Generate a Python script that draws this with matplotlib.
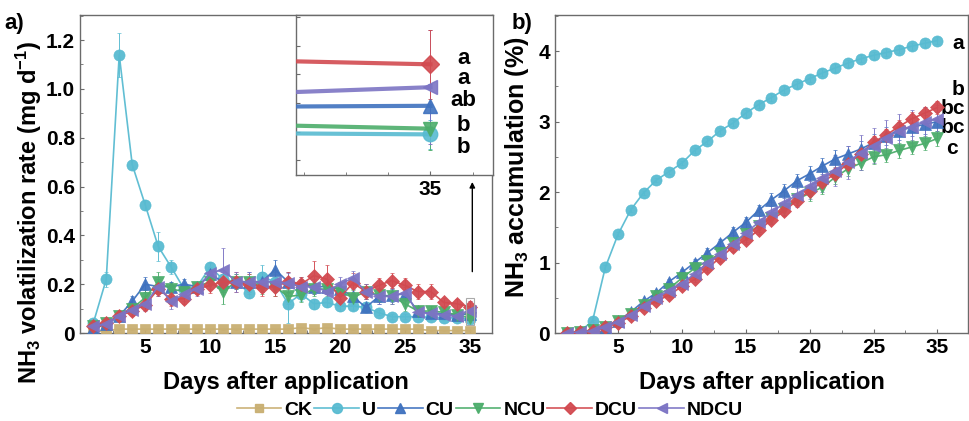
import matplotlib
matplotlib.use('Agg')
import matplotlib.pyplot as plt
from matplotlib.ticker import MultipleLocator, FixedLocator, NullFormatter
from matplotlib.patches import Rectangle
from matplotlib.lines import Line2D

plt.rcParams['font.family'] = ['Liberation Sans', 'DejaVu Sans']
plt.rcParams['font.weight'] = 'bold'
plt.rcParams['axes.labelweight'] = 'bold'
plt.rcParams['mathtext.fontset'] = 'custom'
plt.rcParams['mathtext.bf'] = 'Liberation Sans:bold'
plt.rcParams['mathtext.rm'] = 'Liberation Sans:bold'
plt.rcParams['mathtext.default'] = 'bf'

# ---------------- data ----------------
days = list(range(1, 31))
xtick_pos = [5, 10, 15, 20, 25, 30]
xtick_labels = ['5', '10', '15', '20', '25', '35']
series_names = ['CK', 'U', 'CU', 'NCU', 'DCU', 'NDCU']

# panel a: NH3 volatilization rate (mg d-1)
rate_CK = [0.005, 0.010, 0.016, 0.016, 0.016, 0.016, 0.016, 0.016, 0.016, 0.016,
           0.016, 0.016, 0.016, 0.016, 0.016, 0.016, 0.022, 0.016, 0.022, 0.016,
           0.016, 0.016, 0.016, 0.016, 0.016, 0.016, 0.010, 0.010, 0.010, 0.010]
rate_U = [0.040, 0.220, 1.140, 0.690, 0.525, 0.355, 0.270, 0.180, 0.190, 0.270,
          0.220, 0.210, 0.165, 0.230, 0.210, 0.120, 0.160, 0.120, 0.125, 0.110,
          0.110, 0.105, 0.083, 0.067, 0.067, 0.067, 0.064, 0.063, 0.062, 0.058]
rate_CU = [0.020, 0.035, 0.070, 0.130, 0.200, 0.190, 0.190, 0.200, 0.190, 0.240,
           0.210, 0.210, 0.210, 0.210, 0.260, 0.210, 0.200, 0.190, 0.190, 0.180,
           0.150, 0.105, 0.150, 0.155, 0.160, 0.090, 0.080, 0.080, 0.075, 0.078]
rate_NCU = [0.030, 0.040, 0.070, 0.100, 0.145, 0.210, 0.180, 0.170, 0.190, 0.210,
            0.170, 0.210, 0.210, 0.190, 0.190, 0.150, 0.155, 0.180, 0.180, 0.170,
            0.145, 0.170, 0.155, 0.150, 0.120, 0.090, 0.090, 0.085, 0.075, 0.062]
rate_DCU = [0.030, 0.040, 0.070, 0.090, 0.115, 0.180, 0.140, 0.140, 0.180, 0.195,
            0.210, 0.210, 0.200, 0.190, 0.190, 0.210, 0.200, 0.235, 0.220, 0.145,
            0.205, 0.170, 0.195, 0.215, 0.195, 0.170, 0.170, 0.125, 0.120, 0.107]
rate_NDCU = [0.030, 0.035, 0.070, 0.095, 0.120, 0.190, 0.130, 0.160, 0.180, 0.245,
             0.260, 0.210, 0.210, 0.210, 0.210, 0.205, 0.190, 0.190, 0.170, 0.200,
             0.225, 0.170, 0.150, 0.150, 0.165, 0.085, 0.080, 0.075, 0.070, 0.091]

err_CK = [0.002] * 30
err_U = [0.010, 0.030, 0.090, 0.020, 0.020, 0.060, 0.030, 0.020, 0.020, 0.020,
         0.020, 0.020, 0.020, 0.050, 0.030, 0.080, 0.030, 0.020, 0.020, 0.020,
         0.015, 0.015, 0.010, 0.010, 0.010, 0.010, 0.010, 0.010, 0.010, 0.010]
err_CU = [0.010, 0.010, 0.015, 0.020, 0.030, 0.030, 0.020, 0.020, 0.020, 0.030,
          0.030, 0.030, 0.040, 0.040, 0.040, 0.040, 0.030, 0.030, 0.030, 0.030,
          0.030, 0.020, 0.030, 0.030, 0.030, 0.020, 0.020, 0.020, 0.020, 0.015]
err_NCU = [0.010, 0.010, 0.015, 0.020, 0.030, 0.040, 0.030, 0.020, 0.020, 0.030,
           0.050, 0.030, 0.030, 0.030, 0.040, 0.030, 0.030, 0.030, 0.030, 0.030,
           0.030, 0.030, 0.030, 0.030, 0.030, 0.020, 0.020, 0.020, 0.020, 0.015]
err_DCU = [0.010, 0.010, 0.015, 0.020, 0.020, 0.030, 0.030, 0.020, 0.020, 0.030,
           0.040, 0.040, 0.040, 0.040, 0.040, 0.040, 0.030, 0.060, 0.060, 0.030,
           0.040, 0.030, 0.030, 0.030, 0.030, 0.030, 0.030, 0.020, 0.020, 0.024]
err_NDCU = [0.010, 0.010, 0.015, 0.020, 0.030, 0.040, 0.030, 0.030, 0.030, 0.040,
            0.090, 0.040, 0.040, 0.040, 0.040, 0.040, 0.030, 0.030, 0.030, 0.030,
            0.030, 0.030, 0.030, 0.030, 0.030, 0.020, 0.020, 0.020, 0.020, 0.040]

# panel b: NH3 accumulation (%)
acc_U = [0.00, 0.02, 0.17, 0.93, 1.40, 1.75, 1.99, 2.17, 2.29, 2.41,
         2.59, 2.72, 2.87, 2.98, 3.12, 3.24, 3.34, 3.45, 3.53, 3.61,
         3.69, 3.76, 3.83, 3.89, 3.94, 3.98, 4.02, 4.07, 4.11, 4.15]
acc_CU = [0.00, 0.01, 0.04, 0.09, 0.17, 0.30, 0.45, 0.57, 0.73, 0.86,
          1.00, 1.14, 1.28, 1.43, 1.57, 1.74, 1.89, 2.02, 2.16, 2.26,
          2.37, 2.47, 2.54, 2.61, 2.70, 2.80, 2.87, 2.92, 2.96, 3.00]
acc_NCU = [0.00, 0.02, 0.04, 0.09, 0.17, 0.27, 0.40, 0.53, 0.63, 0.78,
           0.92, 1.02, 1.13, 1.28, 1.40, 1.52, 1.63, 1.76, 1.90, 1.98,
           2.07, 2.21, 2.33, 2.41, 2.50, 2.53, 2.59, 2.64, 2.69, 2.76]
acc_DCU = [0.00, 0.01, 0.03, 0.08, 0.14, 0.24, 0.36, 0.45, 0.54, 0.66,
           0.76, 0.92, 1.07, 1.22, 1.32, 1.46, 1.60, 1.73, 1.88, 2.02,
           2.14, 2.26, 2.40, 2.54, 2.71, 2.81, 2.93, 3.04, 3.12, 3.20]
acc_NDCU = [0.00, 0.01, 0.03, 0.08, 0.16, 0.26, 0.38, 0.50, 0.60, 0.70,
            0.84, 0.99, 1.12, 1.27, 1.42, 1.57, 1.71, 1.84, 1.96, 2.08,
            2.20, 2.30, 2.42, 2.56, 2.66, 2.77, 2.87, 2.93, 2.99, 3.04]

accerr_U = [0.00, 0.01, 0.02, 0.03, 0.03, 0.03, 0.03, 0.03, 0.03, 0.03,
            0.04, 0.04, 0.04, 0.04, 0.05, 0.05, 0.05, 0.05, 0.05, 0.05,
            0.05, 0.05, 0.05, 0.05, 0.05, 0.05, 0.05, 0.05, 0.05, 0.05]
accerr_CU = [0.00, 0.01, 0.01, 0.02, 0.02, 0.03, 0.03, 0.04, 0.04, 0.05,
             0.05, 0.06, 0.06, 0.07, 0.08, 0.08, 0.09, 0.10, 0.10, 0.11,
             0.11, 0.12, 0.12, 0.12, 0.13, 0.13, 0.13, 0.13, 0.13, 0.13]
accerr_NCU = [0.00, 0.01, 0.01, 0.02, 0.02, 0.03, 0.03, 0.04, 0.04, 0.05,
              0.06, 0.06, 0.07, 0.07, 0.08, 0.08, 0.08, 0.09, 0.09, 0.10,
              0.10, 0.10, 0.10, 0.10, 0.10, 0.10, 0.10, 0.10, 0.10, 0.10]
accerr_DCU = [0.00, 0.01, 0.01, 0.02, 0.02, 0.02, 0.03, 0.03, 0.03, 0.04,
              0.04, 0.05, 0.05, 0.05, 0.06, 0.06, 0.06, 0.07, 0.07, 0.07,
              0.08, 0.08, 0.08, 0.08, 0.09, 0.09, 0.09, 0.09, 0.09, 0.09]
accerr_NDCU = [0.00, 0.01, 0.01, 0.02, 0.03, 0.04, 0.05, 0.06, 0.07, 0.08,
               0.09, 0.10, 0.11, 0.12, 0.13, 0.14, 0.15, 0.16, 0.17, 0.18,
               0.20, 0.22, 0.24, 0.25, 0.25, 0.25, 0.24, 0.23, 0.22, 0.20]

# significance letters
inset_letters = ['a', 'a', 'ab', 'b', 'b']       # DCU, NDCU, CU, NCU, U
acc_letters = ['a', 'b', 'bc', 'bc', 'c']        # U, DCU, NDCU, CU, NCU

# ---------------- styles ----------------
colors = {'CK': '#C9AF72', 'U': '#58BBD1', 'CU': '#3F72BF',
          'NCU': '#4CAD6B', 'DCU': '#D24A50', 'NDCU': '#7C74C4'}
markers = {'CK': 's', 'U': 'o', 'CU': '^', 'NCU': 'v', 'DCU': 'D', 'NDCU': '<'}
msize = {'CK': 6.5, 'U': 8, 'CU': 8, 'NCU': 8, 'DCU': 7, 'NDCU': 8}
spine_col = '#6b6b6b'

rates = {'CK': (rate_CK, err_CK), 'U': (rate_U, err_U), 'CU': (rate_CU, err_CU),
         'NCU': (rate_NCU, err_NCU), 'DCU': (rate_DCU, err_DCU),
         'NDCU': (rate_NDCU, err_NDCU)}
accs = {'U': (acc_U, accerr_U), 'CU': (acc_CU, accerr_CU),
        'NCU': (acc_NCU, accerr_NCU), 'DCU': (acc_DCU, accerr_DCU),
        'NDCU': (acc_NDCU, accerr_NDCU)}

fig = plt.figure(figsize=(9.7, 4.21), dpi=100)
axa = fig.add_axes([0.0825, 0.209, 0.4245, 0.755])
axb = fig.add_axes([0.572, 0.209, 0.426, 0.755])


def style_axis(ax):
    for s in ax.spines.values():
        s.set_color(spine_col)
        s.set_linewidth(1.0)
    ax.tick_params(which='both', direction='in', color=spine_col, labelsize=15)
    ax.tick_params(which='major', length=3)
    ax.tick_params(which='minor', length=2)


handles = []
for name in series_names:
    y, e = rates[name]
    c = colors[name]
    axa.errorbar(days, y, yerr=e, color=c, marker=markers[name],
                 markersize=msize[name], linewidth=1.2, elinewidth=0.7,
                 capsize=1.5, capthick=0.7, markeredgewidth=0.5,
                 markeredgecolor=c, alpha=0.95, zorder=3)
    handles.append(Line2D([], [], color=c, marker=markers[name],
                          markersize=msize[name] * 0.9, linewidth=1.2,
                          markeredgecolor=c, alpha=0.95))

axa.set_xlim(-0.02, 31.7)
axa.set_ylim(0, 1.302)
axa.xaxis.set_major_locator(FixedLocator(xtick_pos))
axa.set_xticklabels(xtick_labels)
axa.xaxis.set_minor_locator(MultipleLocator(2.5))
axa.yaxis.set_major_locator(MultipleLocator(0.2))
axa.yaxis.set_minor_locator(MultipleLocator(0.1))
axa.yaxis.set_major_formatter(plt.FuncFormatter(lambda v, p: '0' if abs(v) < 1e-9 else f'{v:.1f}'))
style_axis(axa)
axa.set_xlabel('Days after application', fontsize=17)
axa.xaxis.set_label_coords(0.5, -0.118)
axa.set_ylabel('NH$_3$ volatilization rate (mg d$^{-1}$)', fontsize=17)
axa.yaxis.set_label_coords(-0.088, 0.38)

# zoom marker box and arrow
axa.add_patch(Rectangle((29.7, 0.033), 0.65, 0.11, fill=False,
                        edgecolor='#aaaaaa', linewidth=0.8, zorder=5))
axa.annotate('', xy=(30.2, 0.63), xytext=(30.2, 0.24),
             arrowprops=dict(arrowstyle='-|>', color='black', lw=1.0,
                             mutation_scale=8))

# inset
axi = fig.add_axes([0.305, 0.584, 0.203, 0.380])
for name in ['U', 'NCU', 'CU', 'NDCU', 'DCU']:
    y, e = rates[name]
    c = colors[name]
    axi.errorbar(days, y, yerr=e, color=c, marker=markers[name],
                 markersize=msize[name] * 1.3, linewidth=3, elinewidth=0.7,
                 capsize=1.5, capthick=0.7, markeredgecolor=c, alpha=0.9, zorder=3)
axi.set_xlim(29.84, 30.074)
axi.set_ylim(0.0295, 0.1414)
axi.xaxis.set_major_locator(FixedLocator([30]))
axi.set_xticklabels(['35'])
axi.xaxis.set_minor_locator(MultipleLocator(0.05))
axi.yaxis.set_major_locator(MultipleLocator(0.02))
axi.yaxis.set_major_formatter(NullFormatter())
style_axis(axi)
letter_y = [0.73, 0.605, 0.465, 0.31, 0.17]
for lt, ly in zip(inset_letters, letter_y):
    axi.text(0.85, ly, lt, transform=axi.transAxes, fontsize=16,
             fontweight='bold', ha='center', va='center')

# panel b
for name in ['U', 'CU', 'NCU', 'DCU', 'NDCU']:
    y, e = accs[name]
    c = colors[name]
    axb.errorbar(days, y, yerr=e, color=c, marker=markers[name],
                 markersize=msize[name], linewidth=1.2, elinewidth=0.7,
                 capsize=1.5, capthick=0.7, markeredgewidth=0.5,
                 markeredgecolor=c, alpha=0.95, zorder=3)
axb.set_xlim(0.05, 32.4)
axb.set_ylim(0, 4.51)
axb.xaxis.set_major_locator(FixedLocator(xtick_pos))
axb.set_xticklabels(xtick_labels)
axb.xaxis.set_minor_locator(MultipleLocator(2.5))
axb.yaxis.set_major_locator(MultipleLocator(1))
axb.yaxis.set_minor_locator(MultipleLocator(0.5))
style_axis(axb)
axb.set_xlabel('Days after application', fontsize=17)
axb.xaxis.set_label_coords(0.5, -0.118)
axb.set_ylabel('NH$_3$ accumulation (%)', fontsize=18)
axb.yaxis.set_label_coords(-0.058, 0.52)
acc_letter_y = [0.912, 0.765, 0.705, 0.645, 0.58]
acc_letter_x = [0.975, 0.975, 0.962, 0.962, 0.962]
for lt, lx, ly in zip(acc_letters, acc_letter_x, acc_letter_y):
    axb.text(lx, ly, lt, transform=axb.transAxes, fontsize=15,
             fontweight='bold', ha='center', va='center', clip_on=False)

# panel labels
fig.text(0.004, 0.945, 'a)', fontsize=16, fontweight='bold', ha='left', va='center')
fig.text(0.527, 0.945, 'b)', fontsize=16, fontweight='bold', ha='left', va='center')

# legend
leg = fig.legend(handles, series_names, loc='center', bbox_to_anchor=(0.505, 0.026),
                 ncol=6, frameon=False, fontsize=14, handlelength=2.3,
                 columnspacing=0.1, handletextpad=0.15)

fig.savefig('out.png', dpi=100)
